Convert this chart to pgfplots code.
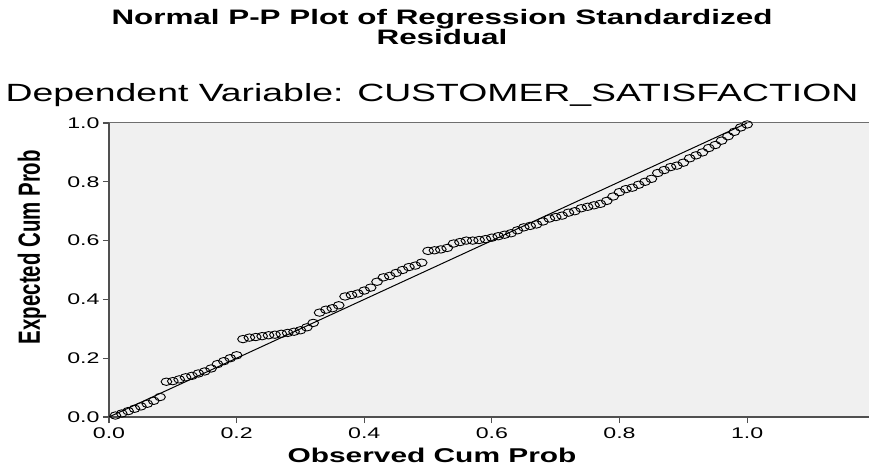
\documentclass[border=0pt]{standalone}
\usepackage{fontspec}
\setmainfont{Liberation Sans}[FakeStretch=1.5]
\newfontfamily\plainfont{Liberation Sans}
\usepackage{pgfplots}
\pgfplotsset{compat=1.18}
\definecolor{bgc}{RGB}{240,240,240}
\definecolor{darkline}{RGB}{80,80,80}
\definecolor{topline}{RGB}{110,110,110}
\pgfplotstableread{
x y
0.01 0.005
0.02 0.012
0.03 0.020
0.04 0.028
0.05 0.036
0.06 0.045
0.07 0.055
0.08 0.068
0.09 0.120
0.10 0.122
0.11 0.128
0.12 0.135
0.13 0.140
0.14 0.148
0.15 0.155
0.16 0.165
0.17 0.180
0.18 0.190
0.19 0.200
0.20 0.210
0.21 0.265
0.22 0.270
0.23 0.272
0.24 0.275
0.25 0.278
0.26 0.280
0.27 0.283
0.28 0.286
0.29 0.290
0.30 0.295
0.31 0.305
0.32 0.320
0.33 0.355
0.34 0.365
0.35 0.370
0.36 0.380
0.37 0.410
0.38 0.415
0.39 0.420
0.40 0.430
0.41 0.440
0.42 0.460
0.43 0.475
0.44 0.480
0.45 0.490
0.46 0.500
0.47 0.510
0.48 0.515
0.49 0.525
0.50 0.565
0.51 0.567
0.52 0.570
0.53 0.575
0.54 0.590
0.55 0.595
0.56 0.600
0.57 0.600
0.58 0.602
0.59 0.605
0.60 0.610
0.61 0.615
0.62 0.620
0.63 0.625
0.64 0.635
0.65 0.645
0.66 0.650
0.67 0.655
0.68 0.665
0.69 0.675
0.70 0.680
0.71 0.685
0.72 0.695
0.73 0.700
0.74 0.710
0.75 0.715
0.76 0.720
0.77 0.725
0.78 0.735
0.79 0.750
0.80 0.765
0.81 0.775
0.82 0.780
0.83 0.790
0.84 0.800
0.85 0.810
0.86 0.830
0.87 0.840
0.88 0.850
0.89 0.855
0.90 0.865
0.91 0.880
0.92 0.890
0.93 0.900
0.94 0.915
0.95 0.925
0.96 0.940
0.97 0.955
0.98 0.970
0.99 0.985
1.00 0.995
}\datatable
\begin{document}
\begin{tikzpicture}
\useasboundingbox (-109bp,-49bp) rectangle (760bp,417bp);
\begin{axis}[
  at={(0,0)}, anchor=south west,
  scale only axis, width=760bp, height=294bp,
  xmin=0, xmax=1.191, ymin=0, ymax=1,
  xtick={0,0.2,0.4,0.6,0.8,1.0},
  ytick={0,0.2,0.4,0.6,0.8,1.0},
  axis x line*=bottom, axis y line*=left,
  axis line style={-, line width=1.6bp, color=darkline},
  axis background/.style={fill=bgc},
  tick align=outside,
  major tick length=6bp,
  tick style={line width=1.2bp, color=darkline},
  /pgf/number format/assume math mode=true,
  /pgf/number format/.cd, fixed, fixed zerofill, precision=1,
  /pgfplots/.cd,
  tick label style={font=\fontsize{15.5}{18}\selectfont, color=black},
  xticklabel style={yshift=-1bp},
  xlabel={\bfseries Observed Cum Prob},
  every axis x label/.style={at={(rel axis cs:0.425,0)}, yshift=-38bp, anchor=center, font=\fontsize{20}{22}\selectfont},
  ylabel={\scalebox{1}[1.5]{\plainfont\bfseries\fontsize{20.5}{22}\selectfont Expected Cum Prob}},
  every axis y label/.style={at={(rel axis cs:0,0.578)}, xshift=-77bp, rotate=90, anchor=center},
  clip=false,
]
\draw[topline, line width=1bp] (rel axis cs:0,1) -- (rel axis cs:1,1);
\addplot[black, line width=1bp, no marks] coordinates {(0,0) (1,1)};
\addplot[only marks, mark=o, mark size=3.7bp, mark options={xscale=1.45, line width=0.9bp, black, fill opacity=0}] table[x=x, y=y] {\datatable};
\end{axis}
\node[align=center, font=\bfseries\fontsize{21}{21}\selectfont] at (333bp,390bp) {Normal P-P Plot of Regression Standardized\\Residual};
\node[font=\fontsize{25}{27}\selectfont] at (323bp,322bp) {Dependent Variable: CUSTOMER\_SATISFACTION};
\end{tikzpicture}
\end{document}
